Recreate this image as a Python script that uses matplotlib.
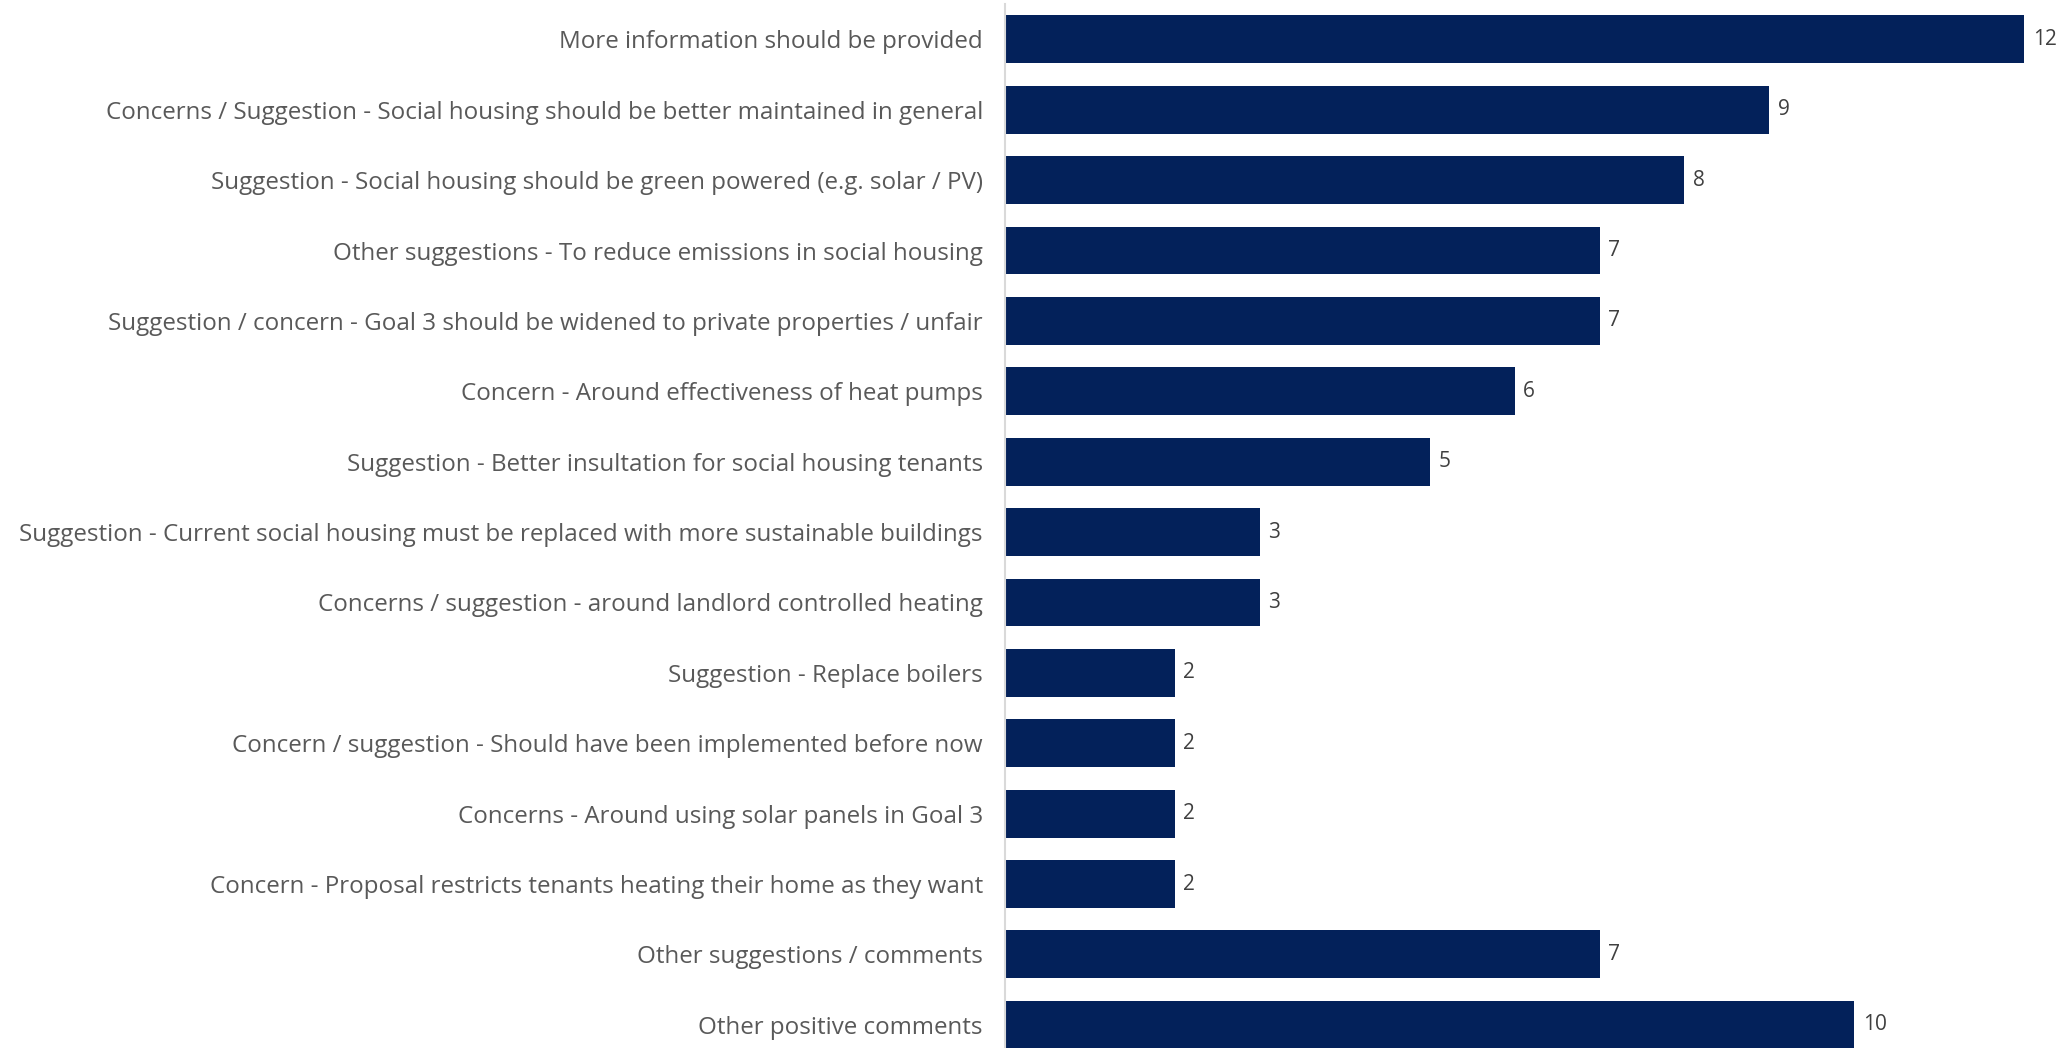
import matplotlib.pyplot as plt

# survey responses, top to bottom
categories = [
    "More information should be provided",
    "Concerns / Suggestion - Social housing should be better maintained in general",
    "Suggestion - Social housing should be green powered (e.g. solar / PV)",
    "Other suggestions - To reduce emissions in social housing",
    "Suggestion / concern - Goal 3 should be widened to private properties / unfair",
    "Concern - Around effectiveness of heat pumps",
    "Suggestion - Better insultation for social housing tenants",
    "Suggestion - Current social housing must be replaced with more sustainable buildings",
    "Concerns / suggestion - around landlord controlled heating",
    "Suggestion - Replace boilers",
    "Concern / suggestion - Should have been implemented before now",
    "Concerns - Around using solar panels in Goal 3",
    "Concern - Proposal restricts tenants heating their home as they want",
    "Other suggestions / comments",
    "Other positive comments",
]
counts = [12, 9, 8, 7, 7, 6, 5, 3, 3, 2, 2, 2, 2, 7, 10]

plt.rcParams['font.family'] = ['Open Sans', 'DejaVu Sans']

fig = plt.figure(figsize=(20.64, 10.48), dpi=100)
ax = fig.add_axes([0.487, 0.0, 0.513, 0.996])

pos = list(range(len(categories)))
ax.barh(pos, counts, height=0.68, color='#03215A')

for y, v in zip(pos, counts):
    ax.text(v + 0.1, y, str(v), va='center', ha='left', fontsize=15, color='#404040')

ax.set_yticks(pos)
ax.set_yticklabels(categories, fontsize=17.4, color='#595959')
ax.tick_params(axis='y', length=0, pad=16)
ax.set_xticks([])
ax.set_xlim(0, 12.47)
ax.set_ylim(14.33, -0.5)

for s in ['top', 'right', 'bottom']:
    ax.spines[s].set_visible(False)
ax.spines['left'].set_color('#D9D9D9')
ax.spines['left'].set_linewidth(1.5)

fig.savefig("out.png", dpi=100)
